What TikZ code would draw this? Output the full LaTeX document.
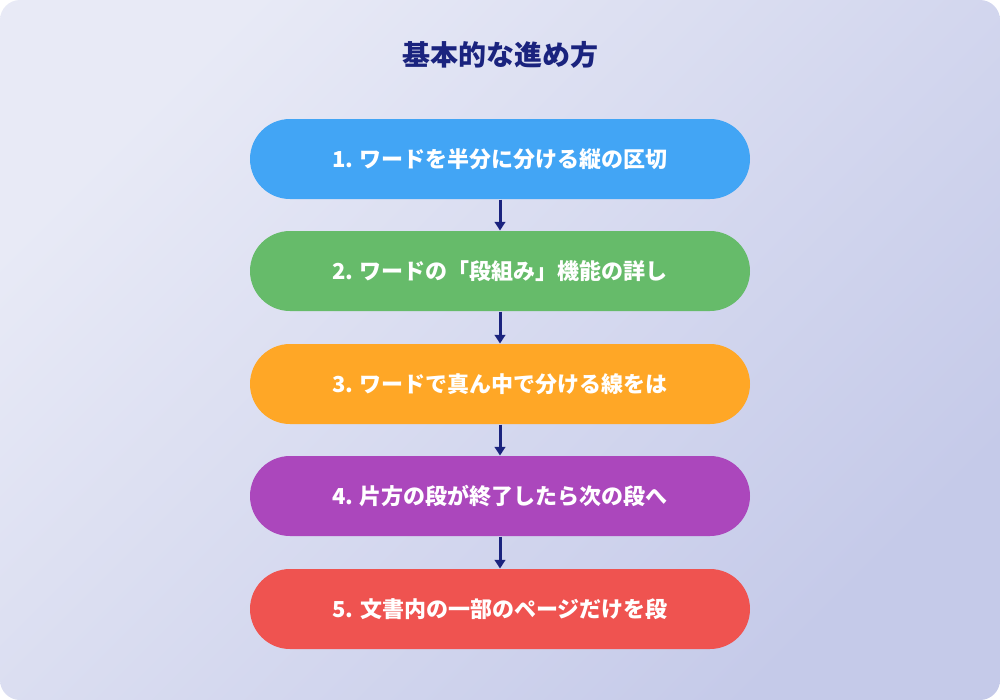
\documentclass[tikz,border=0pt]{standalone}
\usepackage{fontspec}
\newfontfamily\cjk{Noto Sans CJK JP}
\usetikzlibrary{positioning,arrows.meta}
\definecolor{navy}{HTML}{1A237E}
\definecolor{stepblue}{HTML}{42A5F5}
\definecolor{stepgreen}{HTML}{66BB6A}
\definecolor{steporange}{HTML}{FFA726}
\definecolor{steppurple}{HTML}{AB47BC}
\definecolor{stepred}{HTML}{EF5350}
\definecolor{bgtop}{HTML}{E8EAF6}
\definecolor{bgbot}{HTML}{C5CAE9}
\tikzset{every picture/.style={line width=0.75pt}}
\tikzset{
  stepbox/.style={draw=none, rounded corners=30pt, minimum width=375pt, minimum height=60pt,
    text=white, font=\cjk\bfseries\fontsize{16.5}{20}\selectfont},
  link/.style={draw=navy, line width=2.25pt, -{Triangle[length=6.5pt,width=8pt]}}
}
\begin{document}
\begin{tikzpicture}[x=0.75pt,y=0.75pt,yscale=-1,xscale=1]
\useasboundingbox (0,0) rectangle (1000,700);
% background
\shade[left color=bgtop, right color=bgbot, shading angle=45, rounded corners=15pt]
  (0,0) rectangle (1000,700);
% title
\node (title) at (500,55) {\cjk\bfseries\fontsize{21}{25}\selectfont\color{navy}基本的な進め方};
% steps
\node[stepbox, fill=stepblue] (s1) at (500,159) {1. ワードを半分に分ける縦の区切};
\node[stepbox, fill=stepgreen] (s2) at (500,271) {2. ワードの「段組み」機能の詳し};
\node[stepbox, fill=steporange] (s3) at (500,384) {3. ワードで真ん中で分ける線をは};
\node[stepbox, fill=steppurple] (s4) at (500,496) {4. 片方の段が終了したら次の段へ};
\node[stepbox, fill=stepred] (s5) at (500,609) {5. 文書内の一部のページだけを段};
% links
\foreach \a/\b in {s1/s2,s2/s3,s3/s4,s4/s5}
  \draw[link] (\a.south) -- (\b.north);
\end{tikzpicture}
\end{document}
